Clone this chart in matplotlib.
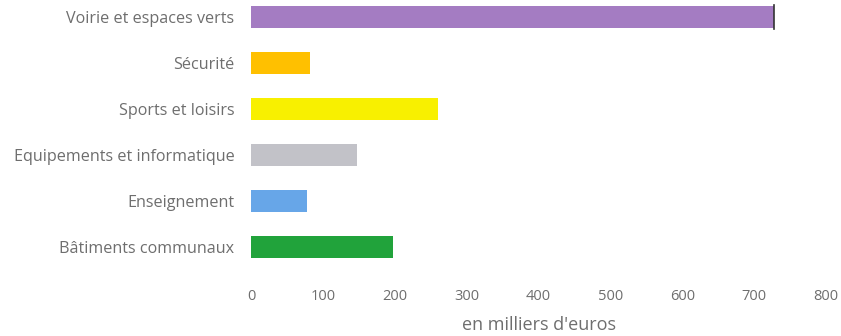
import numpy as np
import matplotlib.pyplot as plt

# budget par poste, en milliers d'euros (du bas vers le haut)
postes = ["Bâtiments communaux", "Enseignement", "Equipements et informatique",
          "Sports et loisirs", "Sécurité", "Voirie et espaces verts"]
montants = [197, 78, 148, 260, 82, 727]
couleurs = ["#21A33B", "#67A6E8", "#C2C2C8", "#F8F000", "#FFC000", "#A47CC2"]
graduations = [0, 100, 200, 300, 400, 500, 600, 700, 800]

plt.rcParams['font.family'] = ['Open Sans', 'DejaVu Sans']
gris = "#6e6e6e"

fig = plt.figure(figsize=(8.41, 3.36), dpi=100)
ax = fig.add_axes([251/841, (336-272)/336, (826-251)/841, 272/336])

y = np.arange(len(postes))
ax.barh(y, montants, height=0.47, color=couleurs)
# petit trait sombre au bout de la barre du haut
ax.plot([montants[-1], montants[-1]], [y[-1]-0.26, y[-1]+0.26], color="#333333", lw=1.2)

ax.set_xlim(0, 800)
ax.set_ylim(-0.54, 5.37)
ax.set_xticks(graduations)
ax.set_yticks(y)
ax.set_yticklabels(postes)
ax.tick_params(axis="y", length=0, pad=12, labelsize=11.6, labelcolor=gris)
ax.tick_params(axis="x", length=0, pad=12, labelsize=10.5, labelcolor=gris)
ax.set_xlabel("en milliers d'euros", fontsize=13, color=gris, labelpad=9)
for s in ax.spines.values():
    s.set_visible(False)

fig.savefig("out.png", dpi=100)
